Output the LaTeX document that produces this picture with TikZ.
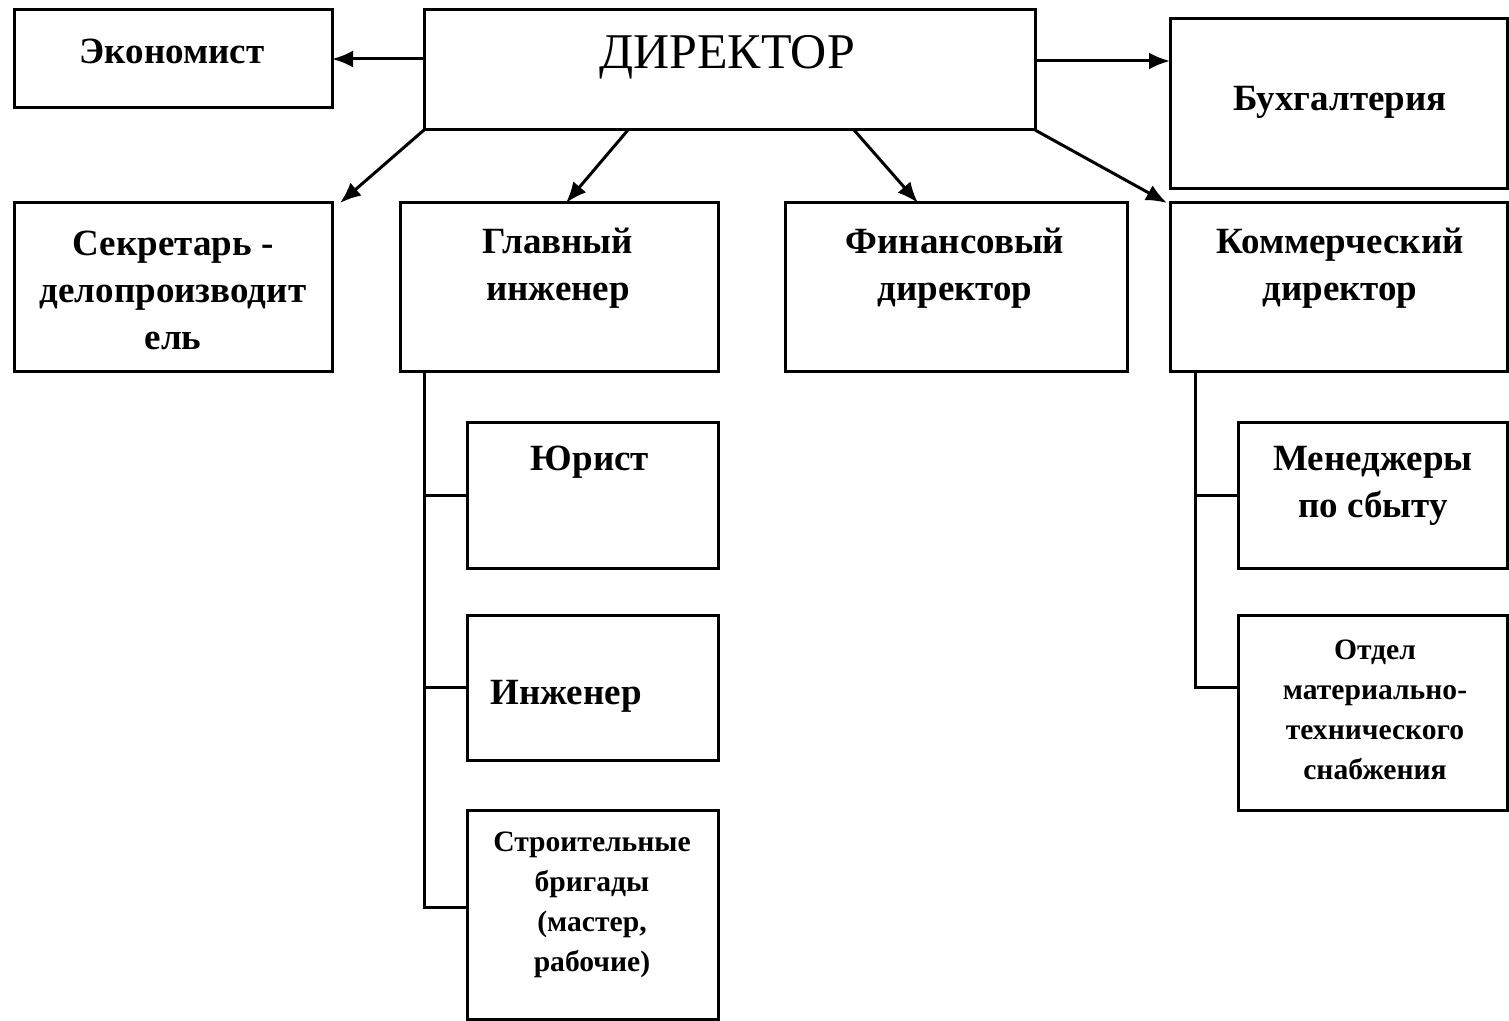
\documentclass[tikz,border=0pt]{standalone}
\usepackage{fontspec}
\setmainfont{Liberation Serif}
\usetikzlibrary{arrows.meta,calc}
\tikzset{
  box/.style={draw=black, line width=1.5pt, fill=white, inner sep=0pt, outer sep=0pt},
  lbl/.style={inner sep=0pt, align=center, font=\bfseries\fontsize{18.5}{23.5}\selectfont},
  small/.style={inner sep=0pt, align=center, font=\bfseries\fontsize{14.8}{20}\selectfont},
  head/.style={inner sep=0pt, align=center, font=\fontsize{25}{29}\selectfont},
  arr/.style={line width=1.5pt, -{Latex[length=10.5pt,width=8.5pt]}},
  link/.style={line width=1.5pt},
}
% \orgbox{name}{left}{top}{right}{bottom}: a framed rectangle given by its corners
\newcommand\orgbox[5]{%
  \node[box, minimum width={(#4-#2)*0.5pt}, minimum height={(#5-#3)*0.5pt}]
    (#1) at ({(#2+#4)/2},{(#3+#5)/2}) {};}
\begin{document}
\begin{tikzpicture}[x=0.5pt,y=-0.5pt]
\useasboundingbox[fill=white] (0,0) rectangle (1509,1021);

% boxes
\orgbox{eco}{14}{10}{332}{108}
\orgbox{dir}{424}{10}{1035}{130}
\orgbox{bukh}{1170}{19}{1507}{189}
\orgbox{sec}{14}{203}{332}{372}
\orgbox{gi}{400}{203}{718}{372}
\orgbox{fin}{785}{203}{1127}{372}
\orgbox{kom}{1170}{203}{1507}{372}
\orgbox{yur}{467}{422}{718}{568}
\orgbox{inzh}{467}{615}{718}{760}
\orgbox{stroy}{467}{810}{718}{1019}
\orgbox{men}{1238}{422}{1507}{568}
\orgbox{otd}{1238}{615}{1507}{810}

% labels
\node[lbl] (teco) at (172,51) {Экономист};
\node[head] (tdir) at (727,57) {ДИРЕКТОР};
\node[lbl] (tbukh) at (1340,102) {Бухгалтерия};
\node[lbl] (tsec) at (173,290) {Секретарь -\\делопроизводит\\ель};
\node[lbl] (tgi) at (558,268) {Главный\\инженер};
\node[lbl] (tfin) at (955,268) {Финансовый\\директор};
\node[lbl] (tkom) at (1340,268) {Коммерческий\\директор};
\node[lbl] (tyur) at (590,462) {Юрист};
\node[lbl] (tinzh) at (566,696) {Инженер};
\node[small] (tstroy) at (592,905) {Строительные\\бригады\\(мастер,\\рабочие)};
\node[lbl] (tmen) at (1373,486) {Менеджеры\\по сбыту};
\node[small] (totd) at (1375,710) {Отдел\\материально-\\технического\\снабжения};

% arrows from the director
\draw[arr] (dir.west |- eco.east) -- (eco.east);
\draw[arr] ($(dir.north east)!0.425!(dir.south east)$) coordinate (dirR) -- (dirR -| bukh.west);
\draw[arr] (dir.south west) -- ($(sec.north east)+(8,0)$);
\draw[arr] ($(dir.south west)+(204,0)$) -- ($(gi.north)+(7,0)$);
\draw[arr] ($(dir.south west)+(430,0)$) -- ($(fin.north west)+(133,0)$);
\draw[arr] (dir.south east) -- ($(kom.north west)+(-3,0)$);

% subordinate branches
\coordinate (gt) at ($(gi.south west)+(24,0)$);
\draw[link] (gt) |- (yur.west);
\draw[link] (gt) |- (inzh.west);
\draw[link] (gt) |- ($(stroy.west)+(0,-7)$);
\coordinate (kt) at ($(kom.south west)+(25,0)$);
\draw[link] (kt) |- (men.west);
\draw[link] (kt) |- ($(otd.north west)!0.37!(otd.south west)$);
\end{tikzpicture}
\end{document}
